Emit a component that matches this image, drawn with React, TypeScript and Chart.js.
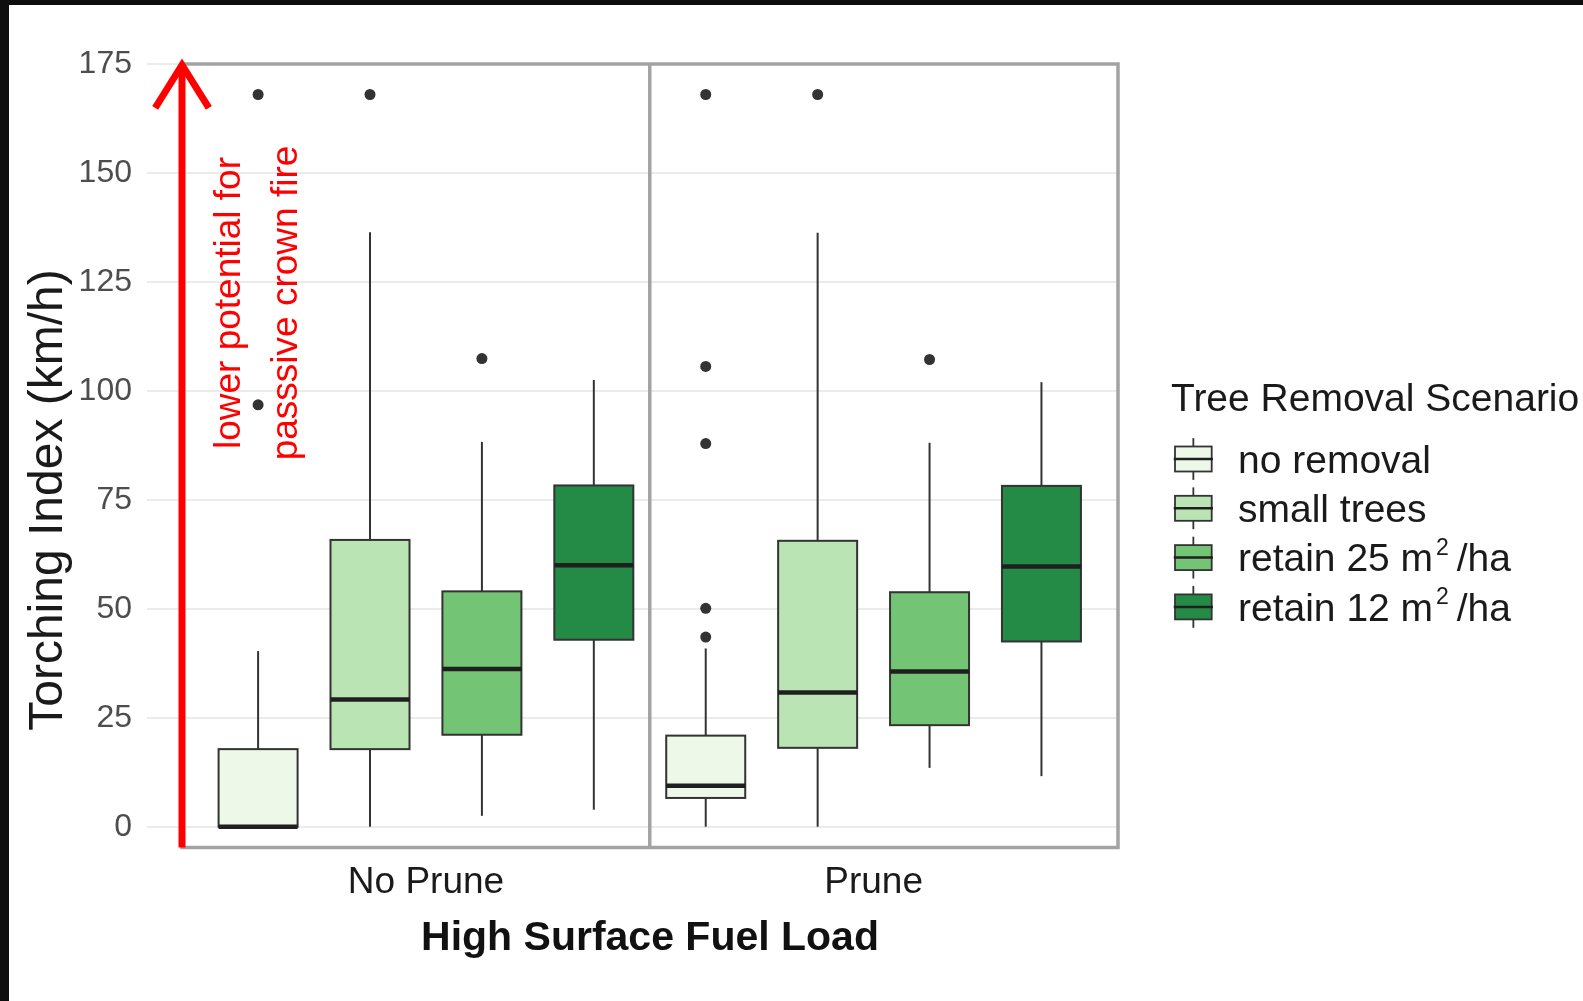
import { useEffect, useRef } from "react";
import { Chart, registerables } from "chart.js";

Chart.register(...registerables);

// Facet groups along the x axis (positions 1 and 2 on a linear scale)
const groups = ["No Prune", "Prune"];
const groupPositions = [1, 2];

// Tree removal scenarios, dodged inside each group
const scenarios = ["no removal", "small trees", "retain 25 m2/ha", "retain 12 m2/ha"];
const scenarioColors = ["#edf8e9", "#bae4b3", "#74c476", "#238b45"];
const dodgeOffsets = [-0.375, -0.125, 0.125, 0.375];
const boxWidth = 0.1765;

// Box-plot statistics, [scenario][group]
const lowerWhisker = [
  [0, 0],
  [0, 0],
  [2.5, 13.5],
  [3.9, 11.6],
];
const lowerQuartile = [
  [0, 6.6],
  [17.8, 18.1],
  [21.1, 23.3],
  [42.9, 42.5],
];
const medians = [
  [0, 9.4],
  [29.2, 30.8],
  [36.2, 35.6],
  [60.0, 59.7],
];
const upperQuartile = [
  [17.8, 20.9],
  [65.8, 65.6],
  [54.0, 53.8],
  [78.3, 78.2],
];
const upperWhisker = [
  [40.3, 40.9],
  [136.4, 136.3],
  [88.3, 88.1],
  [102.5, 102.0],
];
const outliers = [
  [[168, 96.8], [168, 105.6, 87.9, 50.1, 43.5]],
  [[168], [168]],
  [[107.4], [107.2]],
  [[], []],
];

const yTicks = [0, 25, 50, 75, 100, 125, 150, 175];

// Legend entries: main text, optional superscript and trailing text
const legendMain = ["no removal", "small trees", "retain 25 m", "retain 12 m"];
const legendSup = ["", "", "2", "2"];
const legendTail = ["", "", " /ha", " /ha"];

const FONT = "'Liberation Sans', Arial, Helvetica, sans-serif";
const BOX_LINE = "#333333";

function line(ctx: CanvasRenderingContext2D, x1: number, y1: number, x2: number, y2: number) {
  ctx.beginPath();
  ctx.moveTo(x1, y1);
  ctx.lineTo(x2, y2);
  ctx.stroke();
}

// Boxes, whiskers and medians, placed through the chart's scales
const boxPlotPlugin = {
  id: "boxPlot",
  beforeDatasetsDraw(chart: any) {
    const { ctx, scales } = chart;
    const xs = scales.x;
    const ys = scales.y;
    ctx.save();
    scenarios.forEach((_, s) => {
      groups.forEach((_, g) => {
        const cx = groupPositions[g] + dodgeOffsets[s];
        const px = xs.getPixelForValue(cx);
        const left = xs.getPixelForValue(cx - boxWidth / 2);
        const right = xs.getPixelForValue(cx + boxWidth / 2);
        const yLo = ys.getPixelForValue(lowerWhisker[s][g]);
        const yQ1 = ys.getPixelForValue(lowerQuartile[s][g]);
        const yMed = ys.getPixelForValue(medians[s][g]);
        const yQ3 = ys.getPixelForValue(upperQuartile[s][g]);
        const yHi = ys.getPixelForValue(upperWhisker[s][g]);

        ctx.strokeStyle = BOX_LINE;
        ctx.lineWidth = 2;
        line(ctx, px, yHi, px, yQ3);
        line(ctx, px, yQ1, px, yLo);

        ctx.fillStyle = scenarioColors[s];
        ctx.fillRect(left, yQ3, right - left, yQ1 - yQ3);
        ctx.strokeRect(left, yQ3, right - left, yQ1 - yQ3);

        ctx.strokeStyle = "#1f1f1f";
        ctx.lineWidth = 4.5;
        line(ctx, left, yMed, right, yMed);
      });
    });
    ctx.restore();
  },
};

// Panel frame, facet divider, red arrow and its note, y title and legend
const decorPlugin = {
  id: "decor",
  afterDraw(chart: any) {
    const { ctx, scales, chartArea } = chart;
    const xs = scales.x;
    const ys = scales.y;
    const top = ys.getPixelForValue(175);
    const bottom = chartArea.bottom;
    ctx.save();

    // frame and divider
    ctx.strokeStyle = "#a3a3a3";
    ctx.lineWidth = 3.5;
    ctx.strokeRect(chartArea.left, top, chartArea.right - chartArea.left, bottom - top);
    const mid = xs.getPixelForValue(1.5);
    line(ctx, mid, top, mid, bottom);

    // arrow along the left edge
    const ax = chartArea.left;
    const tipY = top - 2;
    ctx.strokeStyle = "#ff0000";
    ctx.lineWidth = 7;
    ctx.lineCap = "butt";
    line(ctx, ax, bottom, ax, tipY + 3);
    ctx.lineCap = "square";
    ctx.lineJoin = "miter";
    ctx.beginPath();
    ctx.moveTo(ax - 25, tipY + 43);
    ctx.lineTo(ax, tipY + 3);
    ctx.lineTo(ax + 25, tipY + 43);
    ctx.stroke();

    // note beside the arrow
    ctx.fillStyle = "#ff0000";
    ctx.font = `37px ${FONT}`;
    ctx.textAlign = "center";
    ctx.textBaseline = "alphabetic";
    const noteLines = ["lower potential for", "passsive crown fire"];
    const noteX = [231, 288];
    noteLines.forEach((t, i) => {
      ctx.save();
      ctx.translate(noteX[i], 298);
      ctx.rotate(-Math.PI / 2);
      ctx.fillText(t, 0, 0);
      ctx.restore();
    });

    // y axis title
    ctx.fillStyle = "#1a1a1a";
    ctx.font = `48px ${FONT}`;
    ctx.save();
    ctx.translate(53, 495);
    ctx.rotate(-Math.PI / 2);
    ctx.fillText("Torching Index (km/h)", 0, 0);
    ctx.restore();

    // legend
    const lx = 1166;
    ctx.textAlign = "left";
    ctx.textBaseline = "middle";
    ctx.font = `39px ${FONT}`;
    ctx.fillStyle = "#1a1a1a";
    ctx.fillText("Tree Removal Scenario", lx - 4, 395);
    legendMain.forEach((label, i) => {
      const cy = 454 + i * 49.3;
      const w = 36.7;
      const h = 25;
      ctx.strokeStyle = BOX_LINE;
      ctx.lineWidth = 1.8;
      line(ctx, lx + w / 2, cy - 20, lx + w / 2, cy + 20);
      ctx.fillStyle = scenarioColors[i];
      ctx.fillRect(lx, cy - h / 2, w, h);
      ctx.strokeRect(lx, cy - h / 2, w, h);
      ctx.lineWidth = 2.5;
      ctx.strokeStyle = "#1f1f1f";
      line(ctx, lx, cy, lx + w, cy);

      const tx = 1229;
      const ty = cy + 3;
      ctx.fillStyle = "#1a1a1a";
      ctx.font = `39px ${FONT}`;
      ctx.textBaseline = "middle";
      ctx.fillText(label, tx, ty);
      let endX = tx + ctx.measureText(label).width;
      if (legendSup[i]) {
        ctx.font = `23px ${FONT}`;
        ctx.textBaseline = "alphabetic";
        ctx.fillText(legendSup[i], endX + 3, ty - 6);
        endX += 3 + ctx.measureText(legendSup[i]).width;
        ctx.font = `39px ${FONT}`;
        ctx.textBaseline = "middle";
        ctx.fillText(legendTail[i], endX - 3, ty);
      }
    });
    ctx.restore();
  },
};

export default function App() {
  const canvasRef = useRef<HTMLCanvasElement | null>(null);

  useEffect(() => {
    const canvas = canvasRef.current;
    if (!canvas) return;

    const datasets = scenarios.map((name, s) => ({
      label: name,
      data: groups.flatMap((_, g) =>
        outliers[s][g].map((v) => ({ x: groupPositions[g] + dodgeOffsets[s], y: v }))
      ),
      pointRadius: 5.5,
      pointBackgroundColor: "#333333",
      pointBorderWidth: 0,
      showLine: false,
    }));

    const chart = new Chart(canvas, {
      type: "scatter",
      data: { datasets },
      plugins: [boxPlotPlugin, decorPlugin],
      options: {
        animation: false,
        responsive: false,
        events: [],
        layout: { padding: { left: 0, top: 59, right: 465, bottom: 3.5 } },
        plugins: {
          legend: { display: false },
          tooltip: { enabled: false },
        },
        scales: {
          x: {
            type: "linear",
            min: 0.455,
            max: 2.546,
            grid: { display: false },
            border: { display: false },
            afterBuildTicks: (scale: any) => {
              scale.ticks = groupPositions.map((v) => ({ value: v }));
            },
            afterFit: (scale: any) => {
              scale.height = 150;
            },
            ticks: {
              autoSkip: false,
              maxRotation: 0,
              padding: 5.5,
              color: "#1a1a1a",
              font: { family: FONT, size: 37 },
              callback: (value: any) => groups[groupPositions.indexOf(Number(value))] ?? "",
            },
            title: {
              display: true,
              text: "High Surface Fuel Load",
              color: "#111111",
              font: { family: FONT, size: 41, weight: "bold" },
              padding: { top: 0, bottom: 34.5 },
            },
          },
          y: {
            type: "linear",
            min: -4.77,
            max: 175,
            border: { display: false },
            grid: {
              color: "#ebebeb",
              lineWidth: 2,
              drawTicks: true,
              tickLength: 35,
              tickColor: "#ebebeb",
              tickWidth: 2,
            },
            afterBuildTicks: (scale: any) => {
              scale.ticks = yTicks.map((v) => ({ value: v }));
            },
            afterFit: (scale: any) => {
              scale.width = 173;
            },
            ticks: {
              autoSkip: false,
              padding: 15,
              color: "#4d4d4d",
              font: { family: FONT, size: 32 },
            },
          },
        },
      } as any,
    });

    return () => chart.destroy();
  }, []);

  return (
    <div
      style={{
        position: "absolute",
        left: 0,
        top: 0,
        width: 1583,
        height: 1001,
        background: "#0e0e0e",
        overflow: "hidden",
      }}
    >
      <div
        style={{
          position: "absolute",
          left: 9,
          top: 5,
          width: 1574,
          height: 996,
          background: "#ffffff",
        }}
      >
        <canvas ref={canvasRef} width={1574} height={996} style={{ display: "block" }} />
      </div>
    </div>
  );
}
